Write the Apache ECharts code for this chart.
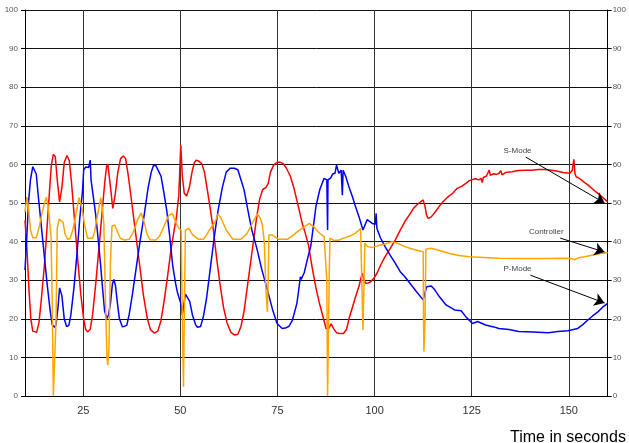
<!DOCTYPE html>
<html>
<head>
<meta charset="utf-8">
<script src="https://cdn.jsdelivr.net/npm/echarts@6/dist/echarts.min.js"></script>
<style>
  html, body { margin: 0; padding: 0; background: #fff; }
  #chart { width: 629px; height: 443px; }
</style>
</head>
<body>
<div id="chart"></div>
<script>
// time axis labels (seconds)
const xTicks = [25, 50, 75, 100, 125, 150];

// S-Mode (red)
const sMode = [
  [10.0, 45.5], [10.5, 38], [11.0, 28], [11.5, 20], [12.0, 16.8], [12.4, 16.3], [13.0, 16.5],
  [13.6, 19], [14.2, 25], [15.0, 34], [15.7, 44], [16.3, 53], [16.8, 60], [17.3, 62.6],
  [17.8, 62], [18.3, 56], [18.9, 50.3], [19.5, 54], [20.1, 60.5], [20.8, 62.3], [21.4, 61],
  [22.0, 55], [22.8, 45], [23.6, 35], [24.4, 26], [25.1, 20], [25.6, 17.3], [26.1, 16.6],
  [26.8, 17.3], [27.4, 21], [28.2, 29], [29.0, 38], [29.8, 47], [30.5, 55], [31.0, 59.5],
  [31.3, 60.1], [31.8, 56], [32.6, 48.6], [33.2, 52], [33.9, 58], [34.6, 61.5], [35.3, 62.2],
  [35.9, 61.5], [36.6, 57], [37.5, 50], [38.5, 42], [39.5, 34], [40.5, 26], [41.5, 20],
  [42.3, 17.2], [43.3, 16.3], [44.2, 16.8], [45.0, 19.5], [45.8, 24.5], [46.7, 31], [47.6, 38],
  [48.4, 43], [49.0, 46.5], [49.6, 52], [50.1, 65], [50.5, 57], [51.0, 52.5], [51.6, 51.8],
  [52.3, 54], [53.0, 58], [53.6, 60.5], [54.1, 61.1], [54.8, 60.8], [55.5, 60.2], [56.2, 58],
  [57.0, 53], [57.7, 48.5], [58.5, 43], [59.3, 36], [60.2, 29], [61.1, 23], [62.0, 19],
  [63.0, 16.5], [64.0, 15.8], [64.8, 16], [65.6, 18], [66.4, 22], [67.2, 28], [68.0, 34],
  [68.8, 40], [69.6, 46], [70.4, 51], [71.2, 53.5], [72.0, 54], [72.6, 55], [73.2, 58],
  [74.0, 59.8], [74.8, 60.5], [75.6, 60.6], [76.5, 60.2], [77.3, 59], [78.3, 57], [79.2, 54],
  [80.4, 49], [81.3, 45], [82.2, 42], [83.0, 39], [83.8, 34], [84.9, 28], [85.8, 24],
  [86.6, 21], [87.5, 17.5], [88.2, 17.5], [88.8, 18.7], [89.5, 17.4], [90.2, 16.4], [90.9, 16.2],
  [92.0, 16.2], [92.8, 17.3], [93.4, 20], [94.3, 23], [95.1, 25.7], [96.0, 28.5], [96.8, 31.8],
  [97.3, 30], [97.7, 29.2], [98.4, 29.3], [99.0, 29.6], [99.8, 30.5], [100.6, 31.8], [101.6, 34],
  [102.7, 36.1], [104.0, 38.2], [105.3, 40.4], [106.5, 42.8], [107.8, 45.2], [109.0, 47],
  [110.0, 48.6], [111.2, 49.8], [112.5, 50.8], [113.0, 49], [113.4, 46.8], [113.8, 46.0],
  [114.6, 46.4], [115.7, 47.8], [116.7, 49.2], [117.6, 50.3], [118.8, 51.5], [120.1, 52.5],
  [121.3, 53.8], [122.4, 54.3], [123.5, 55.1], [124.4, 55.8], [125.2, 56.1], [126.0, 56.3],
  [126.8, 56.0], [127.4, 56.4], [127.7, 55.3], [128.0, 56.6], [128.8, 57], [129.5, 58.5],
  [129.8, 57.2], [130.7, 57.6], [131.4, 57.4], [132.0, 57.7], [132.5, 58.4], [132.8, 57.3],
  [133.7, 57.9], [135.4, 58.1], [137.0, 58.4], [138.8, 58.5], [140.5, 58.5], [142.2, 58.7],
  [143.9, 58.7], [145.5, 58.5], [147.2, 58.2], [148.5, 57.9], [149.0, 57.7], [150.3, 57.7],
  [150.9, 58.5], [151.3, 61.3], [151.6, 57.5], [151.9, 56.8], [152.5, 56.5], [153.2, 56],
  [154.1, 55.3], [154.9, 54.7], [155.7, 54], [156.6, 53.2], [157.5, 52.5], [158.3, 51.8],
  [159.2, 51], [160.0, 50.3]
];

// Controller (orange)
const controller = [
  [10.0, 47.7], [10.5, 51.5], [10.9, 49], [11.4, 43], [12.0, 41], [12.5, 40.8], [12.9, 41],
  [13.7, 44], [14.5, 48], [15.5, 51.5], [16.0, 49], [16.7, 41.3], [17.0, 25], [17.3, 0],
  [17.8, 0], [18.0, 20], [18.3, 43.5], [18.8, 45.8], [19.3, 46.3], [19.8, 45], [20.3, 42],
  [21.0, 40.6], [21.6, 40.8], [22.3, 43], [23.1, 47], [23.9, 51.4], [24.6, 49], [25.4, 44],
  [26.1, 40.9], [27.4, 40.9], [27.9, 42.5], [28.7, 47], [29.5, 51.4], [30.0, 48], [30.3, 44.7],
  [30.7, 25], [31.1, 10], [31.3, 8.0], [31.6, 12], [32.0, 35], [32.4, 44], [33.1, 44.3],
  [33.8, 42.5], [34.6, 40.8], [35.6, 40.4], [36.8, 40.6], [37.9, 42.5], [38.9, 45.5],
  [39.9, 47.4], [40.7, 45], [41.4, 42], [42.2, 40.5], [43.7, 40.4], [44.7, 41.5], [46.0, 44.5],
  [47.0, 46.8], [48.0, 47.2], [48.8, 45], [49.6, 43.4], [50.2, 43], [50.5, 20], [50.8, 2.4],
  [51.0, 20], [51.3, 43], [52.2, 43.4], [53.1, 41.8], [54.7, 40.6], [56.0, 40.6], [57.5, 43],
  [59.0, 45.2], [59.7, 47.2], [60.5, 46], [61.8, 43], [63.5, 40.6], [65.6, 40.6], [67.1, 42],
  [68.4, 44.5], [69.8, 47.2], [70.6, 46], [71.1, 44.3], [71.6, 40], [72.0, 28], [72.4, 21.8],
  [72.6, 30], [72.8, 41.7], [73.7, 41.7], [75.3, 40.6], [77.5, 40.6], [78.8, 41.5], [80.4, 42.8],
  [81.9, 43.8], [83.2, 44.7], [84.4, 43.8], [85.7, 42.3], [87.0, 41.3], [87.7, 30], [87.9, 0],
  [88.1, 0], [88.3, 30], [88.5, 40.9], [89.5, 40.3], [90.9, 40.4], [92.1, 40.9], [93.8, 41.5],
  [95.1, 42.2], [96.4, 43.4], [96.8, 43.2], [97.0, 17.1], [97.2, 17.1], [97.5, 39.6],
  [98.2, 38.7], [99.4, 38.5], [100.7, 38.9], [102.7, 39.4], [104.5, 40], [106.1, 39.5],
  [107.8, 38.7], [109.9, 38.0], [111.9, 37.5], [112.5, 37.4], [112.6, 20], [112.7, 11.5],
  [113.0, 20], [113.2, 38], [114.6, 38.3], [116.7, 37.7], [119.3, 36.9], [121.8, 36.4],
  [124.4, 36.1], [128.2, 35.9], [132.0, 35.7], [135.8, 35.6], [140.5, 35.6], [144.7, 35.6],
  [149.0, 35.7], [150.6, 35.6], [151.5, 35.3], [152.4, 35.8], [154.1, 36.1], [156.2, 36.5],
  [158.2, 36.9], [160.0, 37.1]
];

// P-Mode (blue)
const pMode = [
  [10.0, 32.6], [10.4, 40], [10.9, 50], [11.4, 56], [12.0, 59.4], [12.4, 59.2], [12.9, 57.5],
  [13.4, 52], [14.2, 44], [15.0, 36], [15.7, 29], [16.5, 22], [17.0, 18.5], [17.6, 17.8],
  [18.0, 18.5], [18.5, 23], [18.9, 28], [19.1, 28.3], [19.5, 26], [20.1, 20], [20.7, 18],
  [21.3, 18.3], [21.8, 21], [22.6, 28], [23.4, 37], [24.1, 46], [24.8, 53], [25.1, 58.5],
  [25.6, 59.3], [26.4, 59.2], [26.7, 59], [26.8, 61.1], [27.0, 56], [27.4, 53], [28.2, 47],
  [29.0, 39], [29.5, 33.5], [30.0, 27.5], [30.5, 22], [31.1, 20.1], [31.5, 21], [32.0, 24],
  [32.5, 29], [32.9, 30.2], [33.3, 28.5], [33.8, 24], [34.3, 20], [35.1, 17.9], [35.6, 17.7],
  [36.2, 18.3], [36.8, 21], [37.6, 26], [38.6, 33], [39.6, 40], [40.7, 47], [41.7, 54],
  [42.5, 58], [43.1, 59.8], [43.7, 59.7], [44.2, 59.5], [45.0, 57], [45.7, 53], [46.5, 48],
  [47.3, 41], [48.0, 34], [48.8, 29], [49.3, 26.6], [49.7, 27], [50.1, 24], [50.5, 21],
  [50.8, 23], [51.3, 26.4], [51.8, 26.6], [52.4, 24.5], [53.1, 21], [53.9, 18.5], [54.4, 17.8],
  [55.2, 18], [55.9, 20.5], [56.7, 25], [57.7, 33], [58.7, 41], [59.7, 48], [60.8, 54],
  [61.8, 58], [62.8, 59.0], [63.9, 59.0], [64.8, 58.6], [65.6, 56], [66.4, 53.4], [67.4, 48],
  [68.4, 43], [69.8, 37.8], [70.9, 33], [72.4, 27.5], [73.7, 22.5], [74.9, 18.8], [76.2, 17.5],
  [77.0, 17.6], [77.9, 18], [78.8, 19.5], [80.0, 24], [80.6, 28.5], [80.9, 30.9], [81.1, 30.2],
  [81.9, 32], [82.6, 35], [83.6, 39], [84.9, 49.1], [85.9, 53.5], [87.0, 56.4], [87.7, 56],
  [87.9, 43], [88.0, 56], [88.7, 56.5], [89.2, 57.5], [89.8, 57.7], [90.2, 59.8], [90.8, 57.7],
  [91.4, 58.5], [91.7, 52], [91.9, 58.5], [92.6, 56.8], [93.3, 54.5], [94.3, 51.6], [95.1, 49],
  [96.0, 46.4], [97.0, 43], [98.1, 45.7], [99.4, 44.7], [100.2, 44.5], [100.4, 47.3],
  [100.6, 43.4], [101.5, 41], [102.7, 38.7], [104.0, 36.5], [105.3, 34.4], [106.6, 32.2],
  [107.8, 30.9], [109.1, 29.2], [110.8, 27], [112.5, 24.9], [112.8, 25], [113.4, 28.3],
  [114.6, 28.5], [115.5, 27.5], [116.7, 25.7], [118.4, 23.6], [120.6, 22.3], [122.3, 22.1],
  [123.5, 20.5], [125.2, 18.8], [125.6, 18.3], [126.5, 19.3], [128.6, 18.4], [130.7, 17.9],
  [132.0, 17.5], [134.6, 17.2], [137.1, 16.7], [140.9, 16.6], [144.7, 16.4], [147.2, 16.7],
  [149.8, 16.9], [152.3, 17.5], [153.6, 18.5], [154.9, 19.7], [156.2, 20.8], [157.5, 21.8],
  [158.7, 23], [160.0, 24]
];

// callout text, label anchor, arrow start, arrow tip
const callouts = [
  { text: 'S-Mode', at: [136.8, 63.5], from: [138.9, 61.9], to: [159.2, 50.0] },
  { text: 'Controller', at: [144.2, 42.5], from: [147.8, 40.9], to: [159.2, 37.3] },
  { text: 'P-Mode', at: [136.8, 32.9], from: [140.1, 31.3], to: [159.2, 24.1] }
];

const chart = echarts.init(document.getElementById('chart'));

const yAxisBase = {
  type: 'value',
  min: 0,
  max: 100,
  interval: 10,
  axisLine: { show: true, lineStyle: { color: '#000', width: 1 } },
  axisTick: { show: true, length: 4, lineStyle: { color: '#000' } },
  axisLabel: { fontSize: 8, color: '#555', fontFamily: 'Liberation Sans' },
  splitLine: { show: false }
};

chart.setOption({
  animation: false,
  backgroundColor: '#fff',
  grid: { left: 25, right: 15, top: 10, bottom: 47 },
  xAxis: {
    type: 'value',
    min: 10,
    max: 160,
    axisLine: { show: true, lineStyle: { color: '#000', width: 1 } },
    axisTick: { show: false, customValues: xTicks },
    axisLabel: {
      customValues: xTicks,
      fontSize: 11,
      color: '#333',
      margin: 9,
      fontFamily: 'Liberation Sans'
    },
    splitLine: { show: true, lineStyle: { color: '#333', width: 1 } }
  },
  yAxis: [
    Object.assign({}, yAxisBase, {
      position: 'left',
      axisLabel: Object.assign({}, yAxisBase.axisLabel, { margin: 7 }),
      splitLine: { show: true, lineStyle: { color: '#111', width: 1 } }
    }),
    Object.assign({}, yAxisBase, {
      position: 'right',
      axisLabel: Object.assign({}, yAxisBase.axisLabel, { margin: 5 })
    })
  ],
  graphic: [{
    type: 'text',
    left: 510,
    top: 430,
    style: { text: 'Time in seconds', font: '16px "Liberation Sans"', fill: '#000' }
  }],
  series: [
    {
      name: 'S-Mode',
      type: 'line',
      data: sMode,
      showSymbol: false,
      lineStyle: { color: '#ff0000', width: 1.5 },
      itemStyle: { color: '#ff0000' },
      z: 2
    },
    {
      name: 'P-Mode',
      type: 'line',
      data: pMode,
      showSymbol: false,
      lineStyle: { color: '#0000ff', width: 1.5 },
      itemStyle: { color: '#0000ff' },
      z: 3
    },
    {
      name: 'Controller',
      type: 'line',
      data: controller,
      showSymbol: false,
      lineStyle: { color: '#ffa500', width: 1.5 },
      itemStyle: { color: '#ffa500' },
      z: 4,
      markLine: {
        silent: true,
        symbol: ['none', 'arrow'],
        symbolSize: 10,
        label: { show: false },
        lineStyle: { color: '#000', width: 1, type: 'solid' },
        itemStyle: { color: '#000' },
        emphasis: { disabled: true },
        data: callouts.map(c => [
          { coord: c.from, lineStyle: { color: '#000' }, itemStyle: { color: '#000' } },
          { coord: c.to, lineStyle: { color: '#000' }, itemStyle: { color: '#000' } }
        ])
      },
      markPoint: {
        silent: true,
        symbol: 'circle',
        symbolSize: 0,
        label: {
          show: true,
          position: 'inside',
          color: '#444',
          fontSize: 8,
          fontFamily: 'Liberation Sans',
          formatter: p => p.name
        },
        data: callouts.map(c => ({ name: c.text, coord: c.at }))
      }
    }
  ]
});
</script>
</body>
</html>
